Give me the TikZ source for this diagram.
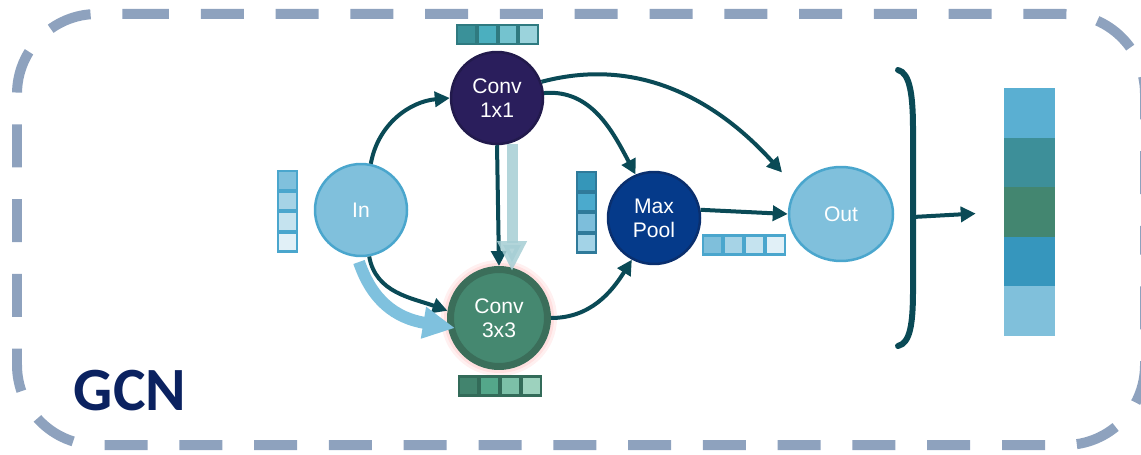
\documentclass[tikz,border=0pt]{standalone}
\usepackage{fontspec}
\setmainfont{Liberation Sans}
\newfontfamily\gcnfont{Carlito}
\usetikzlibrary{arrows.meta,shapes.geometric}
\definecolor{dashc}{HTML}{8EA2BE}
\definecolor{arrc}{HTML}{0A4A56}
\definecolor{lbfill}{HTML}{80C0DC}
\definecolor{lbline}{HTML}{4AA6CD}
\definecolor{cvone}{HTML}{2A1E5C}
\definecolor{cvoneline}{HTML}{221A4C}
\definecolor{mpfill}{HTML}{053A8A}
\definecolor{mpline}{HTML}{0A2F6E}
\definecolor{cvring}{HTML}{3B6E5A}
\definecolor{cvin}{HTML}{458870}
\definecolor{gcnc}{HTML}{0B2260}
\definecolor{fadeblue}{HTML}{7FC1DE}
\definecolor{fadeteal}{HTML}{A6CED4}
\definecolor{bdone}{HTML}{2F7A80}
\definecolor{bdthree}{HTML}{336B59}
\definecolor{bdmp}{HTML}{2F7A9A}
\tikzset{
  x=0.02cm, y=-0.02cm,
  nd/.style={circle, minimum size=1.84cm, inner sep=0pt, text=white, align=center,
    font=\fontsize{12}{13.6}\selectfont, line width=0.05cm},
  arr/.style={draw=arrc, line width=0.08cm, -{Triangle[length=0.3cm,width=0.3cm]}},
  cell/.style={rectangle, minimum width=0.38cm, minimum height=0.38cm, inner sep=0pt, line width=0.045cm},
  frame/.style={dashc, line width=0.2cm, rounded corners=1.6cm, dash pattern=on 0.86cm off 0.636cm},
}
\begin{document}
\begin{tikzpicture}
\clip (0,0) rectangle (1141,455);
\useasboundingbox (0,0) rectangle (1141,455);
% dashed frame
\coordinate (fa) at (126,14);
\coordinate (fb) at (1045,445);
\coordinate (fr) at (1145,230);
\draw[frame] (fa) -- (1145,14) -- (fr);
\draw[frame, dash phase=0.86cm] (fb) -- (1145,445) -- (fr);
\draw[frame] (fb) -- (17,445) -- (17,14) -- (fa);
% GCN
\node[text=gcnc, font=\gcnfont\bfseries\fontsize{35}{40}\selectfont] (gcn) at (130,391) {GCN};
% glow
\fill[red!6] (499,318) circle (58);
\fill[red!12] (499,318) circle (55);
% nodes
\node[nd, fill=lbfill, draw=lbline] (in) at (361,210) {In};
\node[nd, fill=cvone, draw=cvoneline] (c1) at (497,98) {Conv\\1x1};
\node[nd, fill=mpfill, draw=mpline] (mp) at (654,218) {Max\\Pool};
\node[nd, fill=cvin, draw=cvring, line width=0.14cm, minimum size=1.94cm] (c3) at (499,318) {Conv\\3x3};
\node[ellipse, minimum width=2.08cm, minimum height=1.88cm, inner sep=0pt, fill=lbfill, draw=lbline, line width=0.05cm,
  text=white, font=\fontsize{12}{13.6}\selectfont] (out) at (841,214) {Out};
% dark arrows
\draw[arr] (in.78) to[out=80, in=185] (c1.west);
\draw[arr] (in.-80) to[out=-80, in=160] (c3.172);
\draw[arr] (c1.south) -- (c3.north);
\draw[arr] (c1.6) to[out=5, in=118] (mp.113);
\draw[arr, shorten >=0.42cm] (c1.20) to[out=15, in=132] (out.150);
\draw[arr] (mp.10) -- (out.west);
\draw[arr] (c3.east) to[out=0, in=238] (mp.242);
% faded arrows
\draw[fadeblue, line width=0.24cm, -{Triangle[length=0.64cm,width=0.6cm]}]
  (359,262) .. controls (372,300) and (395,318) .. (455,328);
\draw[fadeteal, opacity=0.85, line width=0.22cm, -{Triangle[length=0.6cm,width=0.56cm]}]
  (512,144) -- (512,271);
% vectors
\foreach \c [count=\i] in {80C0DC,A6D3E6,C5E3EF,E1F0F7}{
  \definecolor{tmpc}{HTML}{\c}
  \node[cell, fill=tmpc, draw=lbline] (vin\i) at (287.5,160+\i*20.5) {};
}
\foreach \c [count=\i] in {3A9199,4BAFBF,74C3CF,9BD3DC}{
  \definecolor{tmpc}{HTML}{\c}
  \node[cell, fill=tmpc, draw=bdone] (vc1\i) at (446+\i*20.7,34.5) {};
}
\foreach \c [count=\i] in {42846E,54A78A,7CC0A8,9DD2BE}{
  \definecolor{tmpc}{HTML}{\c}
  \node[cell, fill=tmpc, draw=bdthree] (vc3\i) at (448+\i*20.8,386) {};
}
\foreach \c [count=\i] in {3596B9,4BAACD,7DBEDB,A3D3E7}{
  \definecolor{tmpc}{HTML}{\c}
  \node[cell, fill=tmpc, draw=bdmp] (vmp\i) at (586.5,161+\i*20.5) {};
}
\foreach \c [count=\i] in {7FBFDB,A6D3E6,C5E3EF,E1F0F7}{
  \definecolor{tmpc}{HTML}{\c}
  \node[cell, fill=tmpc, draw=lbline] (vout\i) at (692+\i*20.8,245) {};
}
% bracket
\draw[arrc, line width=0.12cm, line cap=round]
  (898,70) .. controls (910,73) and (913,95) .. (913,130) -- (913,290)
  .. controls (913,325) and (910,343) .. (898,346);
\coordinate (brk) at (913,217);
% result bar
\foreach \c [count=\i] in {5AAFD2,3D8F99,438670,3696BD,80C0DB}{
  \definecolor{tmpc}{HTML}{\c}
  \node[rectangle, minimum width=1.02cm, minimum height=0.995cm, inner sep=0pt, fill=tmpc]
    (bar\i) at (1029.5,63.2+\i*49.6) {};
}
\draw[arr, shorten >=0.56cm] (brk) -- (bar3.west);
\end{tikzpicture}
\end{document}
